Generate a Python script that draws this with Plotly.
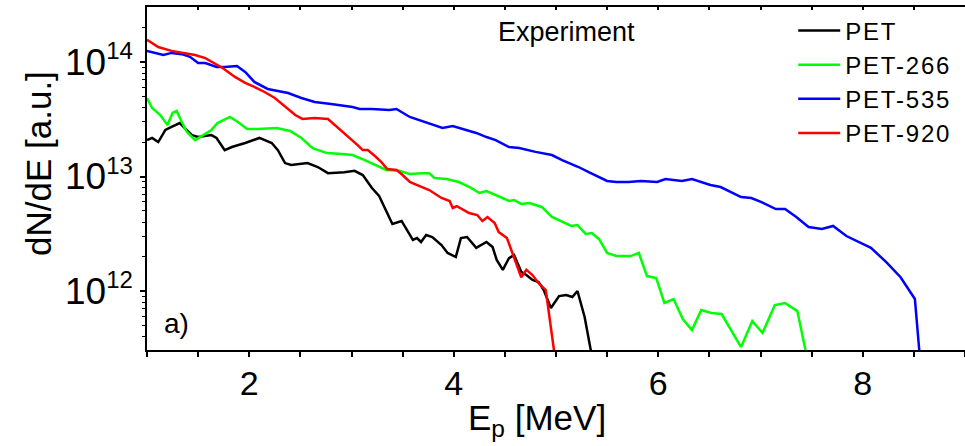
import plotly.graph_objects as go

# ---- data ----
pet_x = [1.00, 1.05, 1.11, 1.18, 1.24, 1.32, 1.37, 1.44, 1.50, 1.63, 1.68, 1.76, 1.83, 1.96, 2.10, 2.22, 2.28,
         2.35, 2.41, 2.57, 2.67, 2.77, 2.93, 3.03, 3.11, 3.20, 3.27, 3.34, 3.40, 3.49, 3.54, 3.60, 3.64, 3.68,
         3.73, 3.79, 3.88, 3.94, 4.02, 4.07, 4.13, 4.22, 4.32, 4.38, 4.42, 4.48, 4.54, 4.59, 4.66, 4.71, 4.77,
         4.83, 4.88, 4.95, 5.03, 5.10, 5.16, 5.21, 5.28, 5.34, 5.36]
pet_y = [2.08e13, 2.17e13, 2.0e13, 2.55e13, 2.71e13, 2.93e13, 2.65e13, 2.30e13, 2.21e13, 2.30e13, 2.17e13,
         1.70e13, 1.81e13, 1.96e13, 2.17e13, 1.96e13, 1.70e13, 1.31e13, 1.26e13, 1.31e13, 1.21e13, 1.07e13,
         1.09e13, 1.12e13, 1.03e13, 7.94e12, 6.76e12, 4.90e12, 3.85e12, 4.09e12, 3.41e12, 2.79e12, 2.90e12,
         2.68e12, 3.08e12, 2.96e12, 2.52e12, 2.15e12, 1.98e12, 2.90e12, 2.96e12, 2.38e12, 2.68e12, 2.42e12,
         1.87e12, 1.53e12, 1.94e12, 2.06e12, 1.47e12, 1.38e12, 1.25e12, 1.20e12, 1.02e12, 7.11e11, 9.04e11,
         9.22e11, 8.87e11, 1.0e12, 5.93e11, 3.05e11, 2.0e11]

pet266_x = [1.00, 1.05, 1.13, 1.20, 1.25, 1.29, 1.34, 1.39, 1.47, 1.55, 1.63, 1.69, 1.81, 1.89, 1.98, 2.08,
            2.27, 2.40, 2.51, 2.62, 2.76, 2.91, 3.01, 3.13, 3.24, 3.34, 3.47, 3.57, 3.69, 3.76, 3.81, 3.93,
            4.05, 4.17, 4.25, 4.32, 4.41, 4.54, 4.59, 4.66, 4.74, 4.86, 4.96, 5.06, 5.15, 5.21, 5.29, 5.35,
            5.42, 5.50, 5.59, 5.73, 5.81, 5.89, 5.98, 6.06, 6.15, 6.24, 6.33, 6.42, 6.52, 6.62, 6.81, 6.92,
            7.02, 7.14, 7.24, 7.36, 7.44, 7.46]
pet266_y = [4.85e13, 3.96e13, 3.44e13, 2.82e13, 3.59e13, 3.73e13, 2.99e13, 2.45e13, 2.08e13, 2.30e13, 2.55e13,
            2.93e13, 3.31e13, 2.99e13, 2.60e13, 2.60e13, 2.65e13, 2.50e13, 2.17e13, 1.77e13, 1.60e13, 1.57e13,
            1.54e13, 1.39e13, 1.26e13, 1.14e13, 1.12e13, 1.05e13, 1.07e13, 1.07e13, 9.70e12, 9.51e12, 8.95e12,
            7.94e12, 7.18e12, 7.47e12, 6.89e12, 6.11e12, 6.24e12, 5.76e12, 5.87e12, 5.42e12, 4.43e12, 4.01e12,
            3.70e12, 3.77e12, 3.15e12, 3.21e12, 2.85e12, 2.15e12, 2.02e12, 2.02e12, 2.15e12, 1.35e12, 1.30e12,
            7.86e11, 8.51e11, 5.69e11, 4.56e11, 6.82e11, 6.43e11, 6.30e11, 3.24e11, 5.47e11, 4.30e11, 7.55e11,
            7.86e11, 6.68e11, 3.05e11, 2.0e11]

pet535_x = [1.00, 1.08, 1.16, 1.24, 1.34, 1.42, 1.50, 1.57, 1.63, 1.68, 1.76, 1.88, 1.96, 2.05, 2.18, 2.27,
            2.38, 2.51, 2.64, 2.80, 2.92, 3.01, 3.08, 3.20, 3.37, 3.44, 3.57, 3.66, 3.76, 3.89, 3.99, 4.08,
            4.22, 4.32, 4.41, 4.54, 4.64, 4.80, 4.96, 5.06, 5.22, 5.32, 5.50, 5.59, 5.71, 5.83, 5.99, 6.07,
            6.23, 6.33, 6.51, 6.61, 6.72, 6.81, 6.91, 7.01, 7.15, 7.24, 7.35, 7.47, 7.60, 7.71, 7.84, 7.98,
            8.08, 8.23, 8.37, 8.51, 8.56, 8.57]
pet535_y = [1.25e14, 1.20e14, 1.15e14, 1.20e14, 1.17e14, 1.11e14, 9.80e13, 9.80e13, 9.42e13, 9.04e13, 9.04e13,
            9.23e13, 8.18e13, 6.69e13, 5.81e13, 5.58e13, 5.36e13, 4.85e13, 4.48e13, 4.30e13, 4.13e13, 4.05e13,
            3.89e13, 3.89e13, 3.81e13, 3.89e13, 3.31e13, 3.11e13, 2.93e13, 2.65e13, 2.76e13, 2.60e13, 2.40e13,
            2.21e13, 2.08e13, 1.81e13, 1.77e13, 1.64e13, 1.54e13, 1.39e13, 1.21e13, 1.09e13, 9.14e12, 8.95e12,
            8.95e12, 9.14e12, 8.95e12, 9.51e12, 9.14e12, 9.51e12, 8.43e12, 8.09e12, 7.18e12, 6.62e12, 6.49e12,
            5.98e12, 5.20e12, 5.20e12, 4.43e12, 3.62e12, 3.48e12, 3.70e12, 3.02e12, 2.62e12, 2.38e12, 1.79e12,
            1.32e12, 8.51e11, 3.05e11, 2.0e11]

pet920_x = [1.00, 1.11, 1.24, 1.37, 1.47, 1.57, 1.64, 1.74, 1.86, 1.96, 2.05, 2.15, 2.25, 2.35, 2.45, 2.52,
            2.64, 2.77, 2.86, 2.93, 2.98, 3.06, 3.11, 3.16, 3.24, 3.29, 3.35, 3.44, 3.50, 3.57, 3.69, 3.76,
            3.88, 3.96, 3.99, 4.03, 4.15, 4.23, 4.28, 4.33, 4.40, 4.44, 4.52, 4.59, 4.66, 4.71, 4.77, 4.83,
            4.90, 4.98, 4.99]
pet920_y = [1.56e14, 1.35e14, 1.25e14, 1.20e14, 1.15e14, 1.08e14, 1.0e14, 8.87e13, 7.40e13, 6.56e13, 6.05e13,
            5.47e13, 4.85e13, 4.05e13, 3.44e13, 3.18e13, 3.24e13, 3.18e13, 2.71e13, 2.40e13, 2.21e13, 1.88e13,
            1.70e13, 1.70e13, 1.48e13, 1.34e13, 1.16e13, 1.14e13, 1.03e13, 8.95e12, 8.09e12, 7.62e12, 6.49e12,
            6.11e12, 5.31e12, 5.52e12, 4.80e12, 4.61e12, 4.09e12, 4.43e12, 3.93e12, 3.27e12, 2.90e12, 1.98e12,
            1.32e12, 1.53e12, 1.38e12, 1.17e12, 1.02e12, 3.05e11, 2.0e11]

series_names = ["PET", "PET-266", "PET-535", "PET-920"]
series_colors = ["#000000", "#00FF00", "#0000FF", "#FF0000"]

x_tick_vals = [2, 4, 6, 8]
x_tick_text = ["2", "4", "6", "8"]
y_tick_vals = [1e12, 1e13, 1e14]
y_tick_exps = ["12", "13", "14"]
y_minor_vals = [4e11, 5e11, 6e11, 7e11, 8e11, 9e11,
                2e12, 3e12, 4e12, 5e12, 6e12, 7e12, 8e12, 9e12,
                2e13, 3e13, 4e13, 5e13, 6e13, 7e13, 8e13, 9e13, 2e14]

FONT = "Arial, Liberation Sans, sans-serif"

y_tick_text = ['10<sup><span style="font-size:24px">%s</span></sup>' % e for e in y_tick_exps]

fig = go.Figure()
for name, color, xs, ys in zip(series_names, series_colors,
                               [pet_x, pet266_x, pet535_x, pet920_x],
                               [pet_y, pet266_y, pet535_y, pet920_y]):
    fig.add_trace(go.Scatter(x=xs, y=ys, mode="lines",
                             name='<span style="letter-spacing:1.8px">%s</span>' % name,
                             line=dict(color=color, width=2.5)))

# empty trace to register top mirror axis
fig.add_trace(go.Scatter(x=[], y=[], xaxis="x2", showlegend=False, hoverinfo="skip"))

fig.update_layout(
    width=965, height=446,
    margin=dict(l=147, r=0, t=7, b=96),
    paper_bgcolor="white", plot_bgcolor="white",
    font=dict(family=FONT, color="black"),
    showlegend=True,
    legend=dict(x=0.79, y=0.996, xanchor="left", yanchor="top", itemwidth=42,
                font=dict(size=24, family=FONT, color="black"),
                bgcolor="rgba(0,0,0,0)", borderwidth=0, tracegroupgap=0),
    xaxis=dict(range=[1, 9], showline=True, linecolor="black", linewidth=1.5,
               ticks="outside", ticklen=5, tickwidth=1.5, tickcolor="black",
               tickmode="array", tickvals=x_tick_vals, ticktext=x_tick_text,
               showgrid=False, zeroline=False, ticklabelstandoff=-3,
               tickfont=dict(size=34, family=FONT, color="black"),
               minor=dict(ticks="outside", ticklen=5, tickwidth=1.5, tickcolor="black",
                          tick0=0, dtick=0.5, showgrid=False)),
    xaxis2=dict(range=[1, 9], overlaying="x", side="top", anchor="y",
                showline=True, linecolor="black", linewidth=1.5,
                ticks="inside", ticklen=3, tickwidth=1.5, tickcolor="black",
                tick0=0, dtick=0.5, showticklabels=False, showgrid=False, zeroline=False),
    yaxis=dict(type="log", range=[11.485, 14.48], showline=True, linecolor="black", linewidth=1.5,
               ticks="outside", ticklen=5, tickwidth=1.5, tickcolor="black",
               tickmode="array", tickvals=y_tick_vals, ticktext=y_tick_text,
               showgrid=False, zeroline=False,
               tickfont=dict(size=37, family=FONT, color="black"),
               minor=dict(ticks="outside", ticklen=3, tickwidth=1.2, tickcolor="black",
                          tickmode="array", tickvals=y_minor_vals, showgrid=False)),
    annotations=[
        dict(text="Experiment", x=(566 - 147) / 818, y=(350 - 32) / 343, xref="paper", yref="paper",
             showarrow=False, font=dict(size=27, family=FONT, color="black"),
             xanchor="center", yanchor="middle"),
        dict(text="a)", x=(176 - 147) / 818, y=(350 - 323) / 343, xref="paper", yref="paper",
             showarrow=False, font=dict(size=28, family=FONT, color="black"),
             xanchor="center", yanchor="middle"),
        dict(text="E<sub>p</sub> [MeV]", x=(537 - 147) / 818, y=(350 - 420) / 343, xref="paper", yref="paper",
             showarrow=False, font=dict(size=35, family=FONT, color="black"),
             xanchor="center", yanchor="middle"),
        dict(text="dN/dE [a.u.]", x=(38 - 147) / 818, y=(350 - 164) / 343, xref="paper", yref="paper",
             showarrow=False, textangle=-90, font=dict(size=35, family=FONT, color="black"),
             xanchor="center", yanchor="middle"),
    ],
)

fig.write_html("out.html")
